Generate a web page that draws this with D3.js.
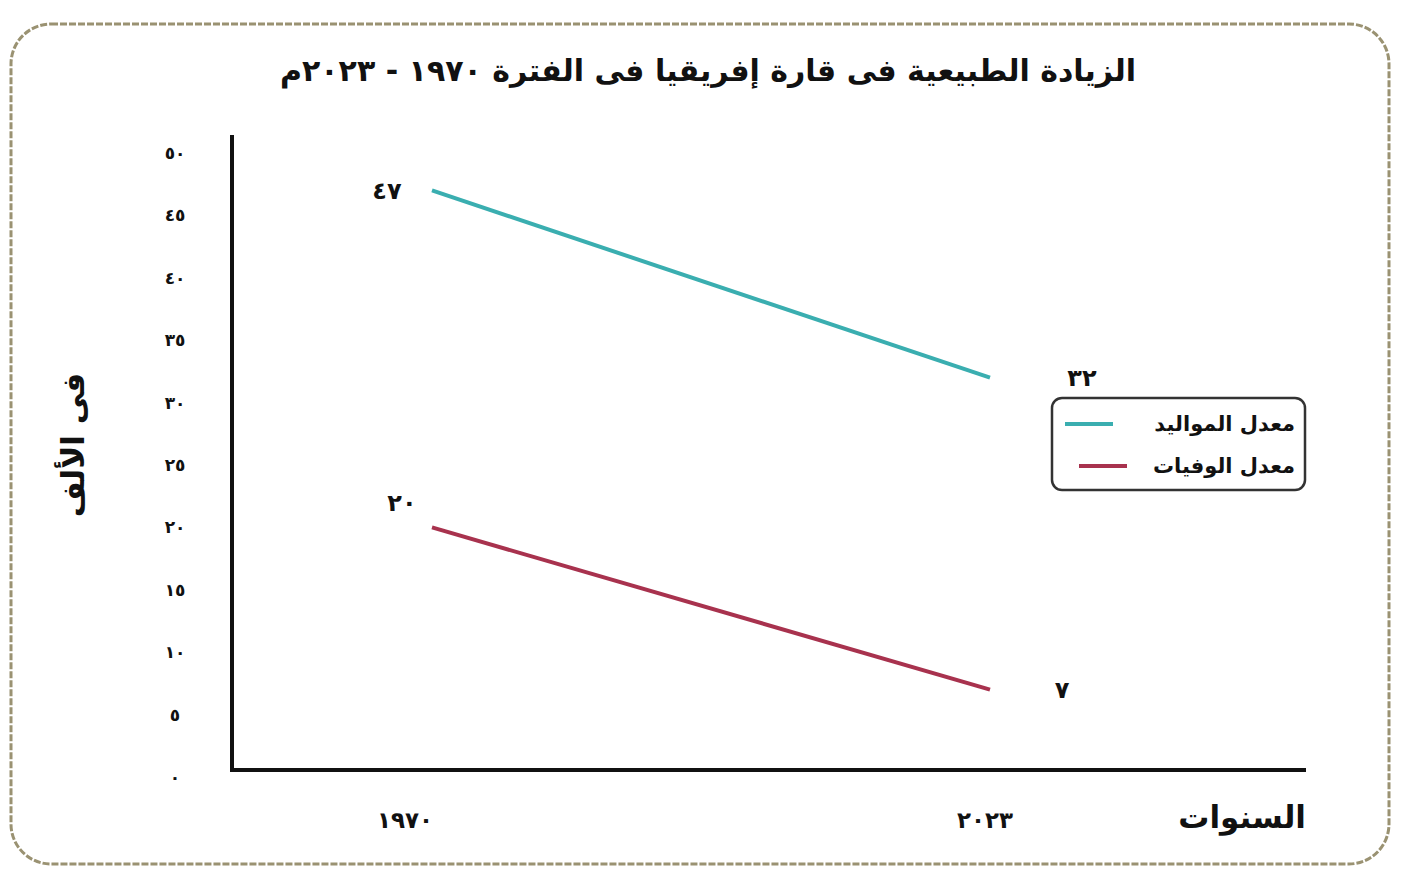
<!DOCTYPE html>
<html>
<head>
<meta charset="utf-8">
<script src="https://cdn.jsdelivr.net/npm/d3@7"></script>
<style>
  body { margin: 0; background: #fff; }
  text { font-family: "DejaVu Sans", sans-serif; font-weight: bold; fill: #111; }
</style>
</head>
<body>
<div id="chart"></div>
<script>
const years = [1970, 2023];
const birthRate = [47, 32];
const deathRate = [20, 7];
const yTicks = [0, 5, 10, 15, 20, 25, 30, 35, 40, 45, 50];
const seriesNames = ["معدل المواليد", "معدل الوفيات"];
const seriesColors = ["#3aaeb0", "#a8324e"];

const titleText = "الزيادة الطبيعية فى قارة إفريقيا فى الفترة ١٩٧٠ - ٢٠٢٣م";
const yLabel = "فى الألف";
const xLabel = "السنوات";

// western digits -> arabic-indic
const ar = n => String(n).replace(/[0-9]/g, c => "٠١٢٣٤٥٦٧٨٩"[+c]);

const W = 1421, H = 870;

const svg = d3.select("#chart")
    .append("svg")
    .attr("width", W)
    .attr("height", H);

// frame
svg.append("rect")
    .attr("x", 11).attr("y", 24)
    .attr("width", 1378).attr("height", 840)
    .attr("rx", 40)
    .style("fill", "#fff")
    .style("stroke", "#9a9272")
    .style("stroke-width", 3)
    .style("stroke-dasharray", "7 2");

const x = d3.scaleLinear()
    .domain([1970, 2023])
    .range([432, 990]);

const y = d3.scaleLinear()
    .domain([0, 50])
    .range([777, 153]);

// y tick labels
const yAxis = svg.append("g")
    .attr("transform", "translate(232,0)")
    .call(d3.axisLeft(y).tickValues(yTicks).tickSize(0).tickPadding(57).tickFormat(ar));
yAxis.select(".domain").remove();
yAxis.selectAll("text")
    .attr("text-anchor", "middle")
    .style("font-size", "17px")
    .style("font-family", "DejaVu Sans")
    .style("font-weight", "bold")
    .style("fill", "#111");

// axis lines
svg.append("line")
    .attr("x1", 232).attr("x2", 232)
    .attr("y1", 135).attr("y2", 772)
    .style("stroke", "#111").style("stroke-width", 4);
svg.append("line")
    .attr("x1", 230).attr("x2", 1306)
    .attr("y1", 770).attr("y2", 770)
    .style("stroke", "#111").style("stroke-width", 4);

// x labels
svg.selectAll(".xlab")
    .data(years)
    .enter()
    .append("text")
    .attr("class", "xlab")
    .attr("x", (d, i) => i === 0 ? x(d) - 27 : x(d) - 5)
    .attr("y", 828)
    .attr("text-anchor", "middle")
    .style("font-size", "23px")
    .text(d => ar(d));

// rtl text: "start" anchors the right edge
svg.append("text")
    .attr("x", 1306)
    .attr("y", 828)
    .attr("text-anchor", "start")
    .attr("direction", "rtl")
    .style("font-size", "31px")
    .text(xLabel);

// y label
svg.append("text")
    .attr("transform", "translate(84,445) rotate(-90)")
    .attr("text-anchor", "middle")
    .attr("direction", "rtl")
    .style("font-size", "31px")
    .text(yLabel);

// title
svg.append("text")
    .attr("x", 708)
    .attr("y", 81)
    .attr("text-anchor", "middle")
    .attr("direction", "rtl")
    .style("font-size", "30px")
    .text(titleText);

// lines
const series = [birthRate, deathRate];
const line = d3.line()
    .x((d, i) => x(years[i]))
    .y(d => y(d));

svg.selectAll(".rate")
    .data(series)
    .enter()
    .append("path")
    .attr("class", "rate")
    .attr("d", d => line(d))
    .style("fill", "none")
    .style("stroke", (d, i) => seriesColors[i])
    .style("stroke-width", 4);

// value labels
const valueLabels = [
    { v: birthRate[0], yr: years[0], dx: -45, dy: 0 },
    { v: birthRate[1], yr: years[1], dx: 92, dy: 0 },
    { v: deathRate[0], yr: years[0], dx: -30, dy: -25 },
    { v: deathRate[1], yr: years[1], dx: 72, dy: 0 }
];
svg.selectAll(".val")
    .data(valueLabels)
    .enter()
    .append("text")
    .attr("class", "val")
    .attr("x", d => x(d.yr) + d.dx)
    .attr("y", d => y(d.v) + d.dy)
    .attr("dy", ".35em")
    .attr("text-anchor", "middle")
    .style("font-size", "24px")
    .text(d => ar(d.v));

// legend
const legend = svg.append("g");
legend.append("rect")
    .attr("x", 1052).attr("y", 398)
    .attr("width", 253).attr("height", 92)
    .attr("rx", 10)
    .style("fill", "#fff")
    .style("stroke", "#333")
    .style("stroke-width", 2.5);

seriesNames.forEach((name, i) => {
    const ly = 424 + i * 42;
    legend.append("line")
        .attr("x1", 1065 + i * 14).attr("x2", 1113 + i * 14)
        .attr("y1", ly).attr("y2", ly)
        .style("stroke", seriesColors[i])
        .style("stroke-width", 4);
    legend.append("text")
        .attr("x", 1295)
        .attr("y", ly)
        .attr("dy", ".35em")
        .attr("text-anchor", "start")
        .attr("direction", "rtl")
        .style("font-size", "21px")
        .text(name);
});
</script>
</body>
</html>
